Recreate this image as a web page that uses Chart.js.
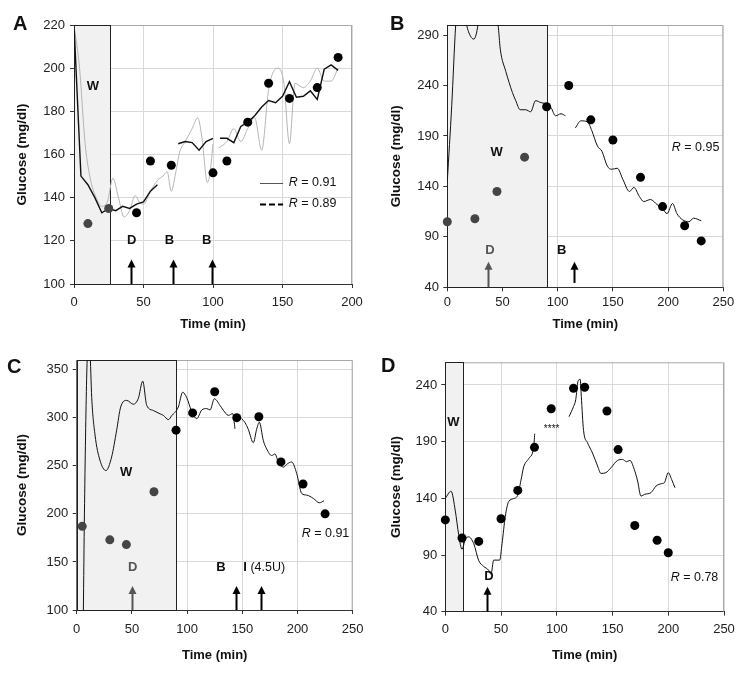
<!DOCTYPE html>
<html>
<head>
<meta charset="utf-8">
<script src="https://cdn.jsdelivr.net/npm/chart.js@4/dist/chart.umd.min.js"></script>
<style>
body{margin:0;background:#fff;width:748px;height:677px;position:relative;overflow:hidden;font-family:"Liberation Sans",Arial,sans-serif}
canvas{position:absolute}
.letter{position:absolute;font-weight:bold;font-size:20px;line-height:20px;color:#111}
</style>
</head>
<body>
<canvas id="cA" width="374" height="338" style="left:0;top:0"></canvas>
<canvas id="cB" width="374" height="338" style="left:374px;top:0"></canvas>
<canvas id="cC" width="374" height="339" style="left:0;top:338px"></canvas>
<canvas id="cD" width="374" height="339" style="left:374px;top:338px"></canvas>
<div class="letter" style="left:13px;top:13px">A</div>
<div class="letter" style="left:390px;top:13px">B</div>
<div class="letter" style="left:7px;top:356px">C</div>
<div class="letter" style="left:381px;top:355px">D</div>
<script>
// ---- data ----
// panel A
var fingerTimeA = [10, 25, 45, 55, 70, 100, 110, 125, 140, 155, 175, 190];
var fingerGlucA = [128, 135, 133, 157, 155, 151.5, 157, 175, 193, 186, 191, 205];
var cgm1TimeA = [0,5,10,15,20,25,30,35,40,45,50,55,60,62,75,80,85,90,95,100,102,105,110,115,120,125,130,135,140,145,150,155,160,165,170,175,180,185,190];
var cgm1GlucA = [220,150,146,140,133,135,134,136,135,137,138,143,146,null,165,166,165.5,162,166,167.5,null,167.5,167.5,165.5,173,175,178,182,185,184,187,193.7,186.5,187,189.5,185.5,199.5,201.5,199];
var cgm2TimeA = [0,4,8,12,16,20,24,28,32,36,40,44,47,50,55,60,64,67,70,73,76,80,85,89,92,96,98,100,102,104,110,115,120,125,130,135,140,144,147,151,155,159,165,170,175,180,185,190];
var cgm2GlucA = [220,200,165,148,140,136,138,149,140,131,134,141,138,137,143,148,150,152,143,151,161,166,172,177,168,147,152,165,null,163,166,172,166,172,177,162,190,199,200,193,165,193,191,194,200,194,194,200];
var yTicksA = [100, 120, 140, 160, 180, 200, 220];
var xTicksA = [0, 50, 100, 150, 200];

// panel B
var fingerTimeB = [0, 25, 45, 70, 90, 110, 130, 150, 175, 195, 215, 230];
var fingerGlucB = [105, 108, 135, 169, 219, 240, 206, 186, 149, 120, 101, 86];
var cgmTimeB = [0,4,7.6,10,13,17.5,21,24,26,27.8,32,40,46,48,53,56,59,62,66,71,75.5,80,85,89,94,98,103,107,111,116,121,127,131,136,140,145,149,154,159,165,169,174,178,184,190,195,199,204,208,213,219,223,230];
var cgmGlucB = [145,220,300,330,330,300,289,286,290,300,330,330,300,276,254,243,233,225,216,216,214,225,223,222,218,210,212,210,null,198,205,204,195,180,175,160,157,158,147,135,139,130,125,127,122,118,113,123,113,107,105,108.5,106];
var yTicksB = [40, 90, 140, 190, 240, 290];
var xTicksB = [0, 50, 100, 150, 200, 250];

// panel C
var fingerTimeC = [5, 30, 45, 70, 90, 105, 125, 145, 165, 185, 205, 225];
var fingerGlucC = [187, 173, 168, 223, 287, 305, 327, 300, 301, 254, 231, 200];
var cgmTimeC = [6,7,9,10.5,12,13.6,16.6,21,26.5,31.6,36.2,39.8,45.3,51.3,55.8,59.8,63.4,69.4,75.5,78.5,83,86,92,96,99.6,104,108.7,113.3,117.8,120.8,124.7,129.8,132.8,137.4,141.3,143.4,145.5,149.4,152.4,155.4,160,163,165.4,169.1,172.1,176.6,179.6,182.7,187.2,190.8,194.7,199.3,203.8,208.3,214.4,219.8,224];
var cgmGlucC = [95,200,340,380,370,321,282,256,245,259,287,311,318,314,320,338,313,307.5,304,302.4,298,302,311,326.5,321,307,299,308,309.5,308,319.7,312.8,307.8,302.4,304.2,288.5,null,299,295,288,274,288,295.3,276,267.5,260.6,262.3,253.7,248.6,252,253.9,241.9,221.2,219.5,216,211.5,213.6];
var yTicksC = [100, 150, 200, 250, 300, 350];
var xTicksC = [0, 50, 100, 150, 200, 250];

// panel D
var fingerTimeD = [0, 15, 30, 50, 65, 80, 95, 115, 125, 145, 155, 170, 190, 200];
var fingerGlucD = [121, 105, 102, 122, 147, 185, 219, 237, 238, 217, 183, 116, 103, 92];
var cgmTimeD = [0,5.2,9,12,15,18,21,25.5,30,34.4,38.9,41,43.4,48.8,50.9,53.8,56.8,61.3,64.9,67.9,70.3,74.8,79.3,80.2,95,111,115,117,119,121,122,124,127.6,132,136.6,139.6,144,148.6,154.6,159,162.6,165.6,169.5,172.5,175.5,179,184.5,189,194.1,196.5,200,203,206];
var cgmGlucD = [140,146.3,128.8,108,95,104,106,100,85,80,76.6,73,85.5,85.5,100,124,137,139.8,142.6,156,167.7,175,185.4,197,null,212,221,227,243,245,230,200,189,180,168.5,162,162.6,167,173.5,174.3,172.3,173.5,165.5,155.3,142,143.6,145,150.8,153,153.8,162.6,156.7,149.4];
var yTicksD = [40, 90, 140, 190, 240];
var xTicksD = [0, 50, 100, 150, 200, 250];

// ---- styling ----
var FONT = 'Liberation Sans, Arial, sans-serif';
var gridColor = '#d9d9d9', axisColor = '#333', frameColor = '#a8a8a8';

function pts(xs, ys) { return xs.map(function(x, i){ return {x: x, y: ys[i]}; }); }

function fingerSet(xs, ys, nGray) {
  return {
    data: pts(xs, ys), showLine: false, clip: false, order: 0,
    pointRadius: 4.5, pointBorderWidth: 0, pointHoverRadius: 4.5,
    pointBackgroundColor: xs.map(function(x, i){ return i < nGray ? '#454545' : '#000'; })
  };
}
function cgmSet(xs, ys, color, width, tension) {
  var s = {
    data: pts(xs, ys), borderColor: color, borderWidth: width, pointRadius: 0,
    spanGaps: false, order: 1, fill: false
  };
  if (tension) s.cubicInterpolationMode = 'monotone'; else s.tension = 0;
  return s;
}

var fonts = {
  b: 'bold 13px ' + FONT,
  r: '12.5px ' + FONT,
  i: 'italic 12.5px ' + FONT,
  s: '10px ' + FONT
};

function drawParts(ctx, px, py, parts, align, color) {
  var total = 0;
  parts.forEach(function(p){ ctx.font = fonts[p[1]]; total += ctx.measureText(p[0]).width; });
  var cx = align == 'center' ? px - total / 2 : px;
  ctx.fillStyle = color || '#111';
  ctx.textBaseline = 'middle'; ctx.textAlign = 'left';
  parts.forEach(function(p){
    ctx.font = fonts[p[1]];
    ctx.fillText(p[0], cx, py);
    cx += ctx.measureText(p[0]).width;
  });
}

function decor(p) {
  return {
    id: 'decor',
    beforeDatasetsDraw: function(chart) {
      var ctx = chart.ctx, a = chart.chartArea, x = chart.scales.x, y = chart.scales.y;
      ctx.save();
      // top/right frame
      ctx.strokeStyle = frameColor; ctx.lineWidth = 1;
      ctx.beginPath();
      ctx.moveTo(a.left, a.top + 0.5); ctx.lineTo(a.right - 0.5, a.top + 0.5); ctx.lineTo(a.right - 0.5, a.bottom);
      ctx.stroke();
      // shaded W period
      var x0 = x.getPixelForValue(p.shade[0]), x1 = x.getPixelForValue(p.shade[1]);
      ctx.fillStyle = '#f1f1f1';
      ctx.fillRect(x0, a.top, x1 - x0, a.bottom - a.top);
      ctx.strokeStyle = '#222';
      ctx.strokeRect(Math.round(x0) + 0.5, Math.round(a.top) + 0.5, Math.round(x1 - x0), Math.round(a.bottom - a.top));
      ctx.restore();
    },
    afterDatasetsDraw: function(chart) {
      var ctx = chart.ctx, x = chart.scales.x, y = chart.scales.y;
      ctx.save();
      (p.arrows || []).forEach(function(ar){
        var px = Math.round(x.getPixelForValue(ar.x)) + 0.5;
        var yb = y.getPixelForValue(ar.from), yt = y.getPixelForValue(ar.to);
        ctx.strokeStyle = ar.color; ctx.fillStyle = ar.color; ctx.lineWidth = 2;
        ctx.beginPath(); ctx.moveTo(px, yb); ctx.lineTo(px, yt + 6); ctx.stroke();
        ctx.beginPath(); ctx.moveTo(px, yt); ctx.lineTo(px - 4, yt + 8); ctx.lineTo(px + 4, yt + 8); ctx.closePath(); ctx.fill();
      });
      (p.keys || []).forEach(function(k){
        var py = Math.round(y.getPixelForValue(k.y)) + 0.5;
        ctx.strokeStyle = k.color; ctx.lineWidth = k.width; ctx.setLineDash(k.dash);
        ctx.beginPath(); ctx.moveTo(x.getPixelForValue(k.x0), py); ctx.lineTo(x.getPixelForValue(k.x1), py); ctx.stroke();
        ctx.setLineDash([]);
      });
      (p.texts || []).forEach(function(t){
        drawParts(ctx, x.getPixelForValue(t.x), y.getPixelForValue(t.y), t.parts, t.align, t.color);
      });
      ctx.restore();
    }
  };
}

function makeChart(id, p) {
  var ctx = document.getElementById(id).getContext('2d');
  var W = ctx.canvas.width, H = ctx.canvas.height;
  return new Chart(ctx, {
    type: 'line',
    data: { datasets: p.datasets },
    options: {
      responsive: false, animation: false, events: [],
      layout: { padding: { left: 0, top: p.box.top, right: W - p.box.right, bottom: 0 } },
      plugins: { legend: { display: false }, tooltip: { enabled: false } },
      scales: {
        x: {
          type: 'linear', min: 0, max: p.xTicks[p.xTicks.length - 1],
          afterBuildTicks: function(s){ s.ticks = p.xTicks.map(function(v){ return {value: v}; }); },
          afterFit: function(s){ s.height = H - p.box.bottom; },
          grid: { color: gridColor, tickColor: axisColor, tickLength: 4 },
          border: { color: axisColor, width: 1 },
          ticks: { color: '#222', font: { family: FONT, size: 13 }, padding: p.box.xtp, autoSkip: false, maxRotation: 0 },
          title: { display: true, text: 'Time (min)', color: '#111', font: { family: FONT, size: 13, weight: 'bold' }, padding: { top: 0, bottom: p.box.xtb } }
        },
        y: {
          type: 'linear', min: p.yMin, max: p.yMax,
          afterBuildTicks: function(s){ s.ticks = p.yTicks.map(function(v){ return {value: v}; }); },
          afterFit: function(s){ s.width = p.box.left; },
          grid: { color: gridColor, tickColor: axisColor, tickLength: 4 },
          border: { color: axisColor, width: 1 },
          ticks: { color: '#222', font: { family: FONT, size: 13 }, padding: p.box.ytp },
          title: { display: true, text: 'Glucose (mg/dl)', color: '#111', font: { family: FONT, size: 13.5, weight: 'bold' }, padding: { top: 14, bottom: 4 } }
        }
      }
    },
    plugins: [decor(p)]
  });
}

makeChart('cA', {
  box: { left: 74, right: 352, top: 25, bottom: 284, xtp: 6.5, xtb: 6, ytp: 5 },
  xTicks: xTicksA, yTicks: yTicksA, yMin: 100, yMax: 220,
  shade: [0, 26],
  datasets: [
    fingerSet(fingerTimeA, fingerGlucA, 2),
    cgmSet(cgm1TimeA, cgm1GlucA, '#111', 1.4, false),
    cgmSet(cgm2TimeA, cgm2GlucA, '#b5b5b5', 1, true)
  ],
  arrows: [
    { x: 41, from: 100, to: 111.4, color: '#000' },
    { x: 71.4, from: 100, to: 111.4, color: '#000' },
    { x: 99, from: 100, to: 111.4, color: '#000' }
  ],
  keys: [
    { x0: 133.8, x1: 150.4, y: 146.9, color: '#555', width: 1, dash: [] },
    { x0: 133.8, x1: 150.4, y: 137.1, color: '#000', width: 2, dash: [6, 3] }
  ],
  texts: [
    { x: 13.5, y: 191.7, parts: [['W', 'b']], align: 'center' },
    { x: 41.5, y: 120.4, parts: [['D', 'b']], align: 'center' },
    { x: 68.6, y: 120.4, parts: [['B', 'b']], align: 'center' },
    { x: 95.5, y: 120.4, parts: [['B', 'b']], align: 'center' },
    { x: 154.5, y: 146.9, parts: [['R', 'i'], [' = 0.91', 'r']], align: 'left' },
    { x: 154.5, y: 137.1, parts: [['R', 'i'], [' = 0.89', 'r']], align: 'left' }
  ]
});

makeChart('cB', {
  box: { left: 73.3, right: 349.3, top: 25, bottom: 287.3, xtp: 3.5, xtb: 6, ytp: 4.3 },
  xTicks: xTicksB, yTicks: yTicksB, yMin: 40, yMax: 300,
  shade: [0, 90.5],
  datasets: [
    fingerSet(fingerTimeB, fingerGlucB, 4),
    cgmSet(cgmTimeB, cgmGlucB, '#111', 1, true)
  ],
  arrows: [
    { x: 37, from: 40, to: 65.4, color: '#555' },
    { x: 115, from: 44.3, to: 65.4, color: '#000' }
  ],
  texts: [
    { x: 44.7, y: 173.5, parts: [['W', 'b']], align: 'center' },
    { x: 38.7, y: 77, parts: [['D', 'b']], align: 'center', color: '#555' },
    { x: 103.6, y: 76.4, parts: [['B', 'b']], align: 'center' },
    { x: 203.3, y: 179, parts: [['R', 'i'], [' = 0.95', 'r']], align: 'left' }
  ]
});

makeChart('cC', {
  box: { left: 76.7, right: 352.7, top: 22, bottom: 272, xtp: 7.5, xtb: 14, ytp: 4.4 },
  xTicks: xTicksC, yTicks: yTicksC, yMin: 100, yMax: 360,
  shade: [0, 90],
  datasets: [
    fingerSet(fingerTimeC, fingerGlucC, 4),
    cgmSet(cgmTimeC, cgmGlucC, '#111', 1, true)
  ],
  arrows: [
    { x: 50, from: 100, to: 125, color: '#555' },
    { x: 144.3, from: 100, to: 125, color: '#000' },
    { x: 167, from: 100, to: 125, color: '#000' }
  ],
  texts: [
    { x: 44.7, y: 243.5, parts: [['W', 'b']], align: 'center' },
    { x: 50.7, y: 143.9, parts: [['D', 'b']], align: 'center', color: '#555' },
    { x: 130.7, y: 143.9, parts: [['B', 'b']], align: 'center' },
    { x: 150.9, y: 143.9, parts: [['I', 'b'], [' (4.5U)', 'r']], align: 'left' },
    { x: 203.8, y: 179.6, parts: [['R', 'i'], [' = 0.91', 'r']], align: 'left' }
  ]
});

makeChart('cD', {
  box: { left: 71.3, right: 350, top: 24.3, bottom: 273.7, xtp: 6, xtb: 14, ytp: 4 },
  xTicks: xTicksD, yTicks: yTicksD, yMin: 40, yMax: 260,
  shade: [0, 16],
  datasets: [
    fingerSet(fingerTimeD, fingerGlucD, 0),
    cgmSet(cgmTimeD, cgmGlucD, '#111', 1, true)
  ],
  arrows: [
    { x: 37, from: 40, to: 62, color: '#000' }
  ],
  texts: [
    { x: 7.2, y: 206.7, parts: [['W', 'b']], align: 'center' },
    { x: 39.2, y: 71.5, parts: [['D', 'b']], align: 'center' },
    { x: 95.4, y: 201, parts: [['****', 's']], align: 'center' },
    { x: 202.2, y: 70, parts: [['R', 'i'], [' = 0.78', 'r']], align: 'left' }
  ]
});
</script>
</body>
</html>
